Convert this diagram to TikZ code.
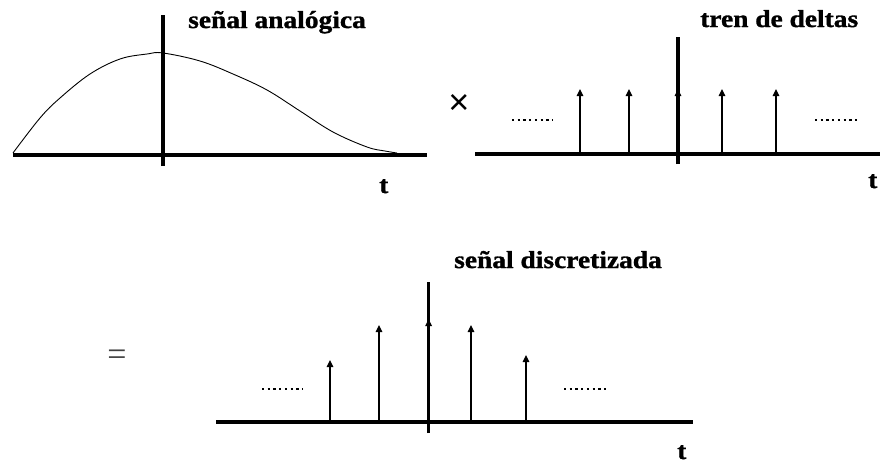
\documentclass[tikz,border=0pt]{standalone}
\usepackage{fontspec}
\usetikzlibrary{arrows.meta}
\newfontfamily\lblfont[FakeStretch=1.12,FakeBold=1.2]{Liberation Serif}
\newfontfamily\symfont{Liberation Sans}
\newfontfamily\eqfont{Liberation Serif}
\tikzset{
  axis/.style={line width=3.6pt},
  delta/.style={line width=1.1pt, -{Triangle[width=6.5pt,length=7pt]}},
  sig/.style={line width=0.9pt},
  dots/.style={line width=2.6pt, dash pattern=on 2.3pt off 3.4pt},
  title/.style={inner sep=0pt, anchor=base west, font=\lblfont\bfseries\fontsize{24.5}{28}\selectfont},
  tlabel/.style={inner sep=0pt, anchor=base west, font=\lblfont\bfseries\fontsize{24.5}{28}\selectfont},
}
\begin{document}
\begin{tikzpicture}[x=1pt,y=-1pt]
\useasboundingbox (0,0) rectangle (880,464);
% ---------- top-left: analog signal ----------
\coordinate (a1l) at (13,155); \coordinate (a1r) at (427,155);
\coordinate (a1b) at (163,166); \coordinate (a1t) at (163,15);
\draw[axis] (a1l) -- (a1r);
\draw[axis] (a1b) -- (a1t);
\draw[sig] plot[smooth, tension=0.6] coordinates {(13,153) (40,118) (60,98) (90,74) (120,59) (147,54) (163,53) (200,61) (233,74) (267,90) (300,111) (333,132) (367,147) (385,151) (397,153)};
\node[title] (tA) at (188,28) {señal analógica};
\node[tlabel] (t1) at (379,193) {t};
% ---------- top-right: delta train ----------
\node[inner sep=0pt, font=\symfont\fontsize{36}{40}\selectfont] (times) at (459,104) {×};
\coordinate (a2l) at (475,154); \coordinate (a2r) at (885,154);
\coordinate (a2b) at (678,164); \coordinate (a2t) at (678,37);
\draw[axis] (a2l) -- (a2r);
\draw[axis] (a2b) -- (a2t);
\foreach \i/\x in {1/580,2/629,3/678,4/722,5/776}{
  \coordinate (d2b\i) at (\x,154);
  \coordinate (d2t\i) at (\x,89);
  \draw[delta] (d2b\i) -- (d2t\i);
}
\coordinate (dl2a) at (512,120); \coordinate (dl2b) at (552,120);
\coordinate (dr2a) at (815,120); \coordinate (dr2b) at (857,120);
\draw[dots] (dl2a) -- (dl2b);
\draw[dots] (dr2a) -- (dr2b);
\node[title] (tB) at (700,27) {tren de deltas};
\node[tlabel] (t2) at (868,188) {t};
% ---------- bottom: sampled signal ----------
\node[inner sep=0pt, text=black!75, font=\eqfont\fontsize{34}{38}\selectfont] (eq) at (117,358) {=};
\coordinate (a3l) at (216,422); \coordinate (a3r) at (693,422);
\coordinate (a3b) at (428.6,433); \coordinate (a3t) at (428.6,282);
\draw[axis] (a3l) -- (a3r);
\draw[axis] (a3b) -- (a3t);
\foreach \i/\x/\h in {1/330/360,2/379/325,3/428.6/319,4/471/325,5/526/355}{
  \coordinate (d3b\i) at (\x,422);
  \coordinate (d3t\i) at (\x,\h);
  \draw[delta] (d3b\i) -- (d3t\i);
}
\coordinate (dl3a) at (262,389); \coordinate (dl3b) at (302,389);
\coordinate (dr3a) at (564,389); \coordinate (dr3b) at (606,389);
\draw[dots] (dl3a) -- (dl3b);
\draw[dots] (dr3a) -- (dr3b);
\node[title] (tC) at (454,268) {señal discretizada};
\node[tlabel] (t3) at (677,459) {t};
\end{tikzpicture}
\end{document}
